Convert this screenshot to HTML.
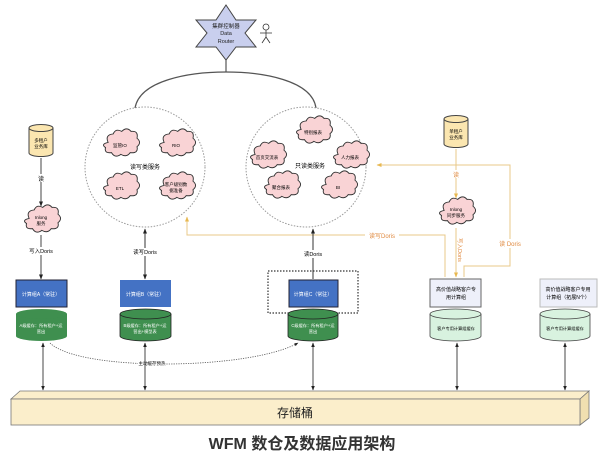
<!DOCTYPE html>
<html><head><meta charset="utf-8"><style>
body{margin:0;background:#fff;}
text{font-family:"Liberation Sans","Noto Sans CJK SC",sans-serif;}
</style></head><body>
<svg width="604" height="467" viewBox="0 0 604 467" xmlns="http://www.w3.org/2000/svg">
<defs>
<marker id="a" viewBox="0 0 10 10" refX="9" refY="5" markerWidth="5" markerHeight="5" orient="auto-start-reverse"><path d="M0,1L10,5L0,9z" fill="#222"/></marker>
<marker id="o" viewBox="0 0 10 10" refX="9" refY="5" markerWidth="5" markerHeight="5" orient="auto-start-reverse"><path d="M0,1L10,5L0,9z" fill="#e8b850"/></marker>
<g id="cl"><path transform="scale(0.85)" d="M-14,-3 q-4,-9 6,-10 q3,-7 10,-3 q6,-6 11,0 q9,-1 7,8 q6,5 0,10 q2,8 -8,7 q-4,6 -11,2 q-7,5 -11,-2 q-9,1 -7,-6 q-6,-4 3,-6z" fill="#f9d3d5" stroke="#333" stroke-width="1.1"/></g>
</defs>
<polygon points="226,5 236,20 256,20 245,33 256,47 236,47 226,60 216,47 196,47 207,33 196,20 216,20" fill="#c9cfee" stroke="#444" stroke-width="1"/>
<text x="226" y="28" font-size="5.5" text-anchor="middle" fill="#222">集群控制器</text>
<text x="226" y="35" font-size="5.5" text-anchor="middle" fill="#222">Data</text>
<text x="226" y="43" font-size="5.5" text-anchor="middle" fill="#222">Router</text>
<g stroke="#333" stroke-width="0.8" fill="none"><circle cx="266" cy="27" r="3"/><path d="M266,30V37M260,33H272M266,37L262,43M266,37L270,43"/></g>
<path d="M226,60V72" stroke="#555" stroke-width="1.2"/>
<path d="M135,108 C140,80 190,72 226,72 C262,72 312,80 316,108" fill="none" stroke="#555" stroke-width="1.2"/>
<circle cx="145" cy="167" r="60" fill="none" stroke="#999" stroke-width="1" stroke-dasharray="1.5,1.5"/>
<circle cx="306" cy="167" r="60" fill="none" stroke="#999" stroke-width="1" stroke-dasharray="1.5,1.5"/>
<use href="#cl" x="120" y="145"/><text x="120" y="147" font-size="4.5" text-anchor="middle">监管IO</text>
<use href="#cl" x="176" y="145"/><text x="176" y="147" font-size="4.5" text-anchor="middle">RIO</text>
<use href="#cl" x="120" y="188"/><text x="120" y="190" font-size="4.5" text-anchor="middle">ETL</text>
<use href="#cl" x="176" y="188"/><text x="176" y="186" font-size="4.5" text-anchor="middle">客户级别数</text><text x="176" y="192" font-size="4.5" text-anchor="middle">据准备</text>
<text x="145" y="169" font-size="6" text-anchor="middle">读写类服务</text>
<use href="#cl" x="313" y="132"/><text x="313" y="134" font-size="4.5" text-anchor="middle">特别报表</text>
<use href="#cl" x="267" y="157"/><text x="267" y="159" font-size="4.5" text-anchor="middle">首页交流表</text>
<use href="#cl" x="350" y="157"/><text x="350" y="159" font-size="4.5" text-anchor="middle">人力报表</text>
<use href="#cl" x="281" y="187"/><text x="281" y="189" font-size="4.5" text-anchor="middle">聚合报表</text>
<use href="#cl" x="338" y="187"/><text x="338" y="189" font-size="4.5" text-anchor="middle">BI</text>
<text x="310" y="168" font-size="6" text-anchor="middle">只读类服务</text>
<path d="M29,128v25a12,3.5 0 0 0 24,0v-25" fill="#fbe6b0" stroke="#444"/><ellipse cx="41" cy="128" rx="12" ry="3.5" fill="#fbe6b0" stroke="#444"/>
<text x="41" y="142" font-size="4.5" text-anchor="middle">多租户</text><text x="41" y="148" font-size="4.5" text-anchor="middle">业务库</text>
<path d="M41,158V206" stroke="#444" marker-end="url(#a)"/>
<rect x="36" y="174" width="10" height="8" fill="#fff"/><text x="41" y="181" font-size="6" text-anchor="middle">读</text>
<use href="#cl" x="41" y="221"/><text x="41" y="219" font-size="4.5" text-anchor="middle">Inlong</text><text x="41" y="225" font-size="4.5" text-anchor="middle">服务</text>
<path d="M41,235V279" stroke="#444" marker-end="url(#a)"/>
<rect x="26" y="247" width="30" height="8" fill="#fff"/><text x="41" y="253" font-size="5.5" text-anchor="middle">写入Doris</text>
<path d="M444,119v25a12,3.5 0 0 0 24,0v-25" fill="#fbe6b0" stroke="#444"/><ellipse cx="456" cy="119" rx="12" ry="3.5" fill="#fbe6b0" stroke="#444"/>
<text x="456" y="133" font-size="4.5" text-anchor="middle">单租户</text><text x="456" y="139" font-size="4.5" text-anchor="middle">业务库</text>
<path d="M456,149V198" stroke="#e8c888" marker-end="url(#o)"/>
<rect x="451" y="170" width="10" height="8" fill="#fff"/><text x="456" y="177" font-size="6" text-anchor="middle" fill="#e08a40">读</text>
<use href="#cl" x="456" y="213"/><text x="456" y="211" font-size="4.5" text-anchor="middle">Inlong</text><text x="456" y="217" font-size="4.5" text-anchor="middle">同步服务</text>
<path d="M456,228V277" stroke="#e8c888" marker-end="url(#o)"/>
<text x="458" y="238" font-size="5.5" fill="#e08a40" transform="rotate(90 458 238)">写入Doris</text>
<path d="M445,277V235H187V217" fill="none" stroke="#e8c888" marker-end="url(#o)"/>
<rect x="365" y="231" width="34" height="9" fill="#fff"/><text x="382" y="238" font-size="6" text-anchor="middle" fill="#e08a40">读写Doris</text>
<path d="M464,277V266H510V165H377" fill="none" stroke="#e8c888" marker-end="url(#o)"/>
<rect x="497" y="239" width="26" height="9" fill="#fff"/><text x="510" y="246" font-size="6" text-anchor="middle" fill="#e08a40">读 Doris</text>
<path d="M145,229V279" stroke="#333" marker-start="url(#a)" marker-end="url(#a)"/>
<rect x="130" y="248" width="30" height="8" fill="#fff"/><text x="145" y="254" font-size="5.5" text-anchor="middle">读写Doris</text>
<path d="M313,229V279" stroke="#333" marker-start="url(#a)"/>
<rect x="300" y="250" width="26" height="8" fill="#fff"/><text x="313" y="256" font-size="5.5" text-anchor="middle">读Doris</text>
<rect x="268" y="271" width="90" height="42" fill="none" stroke="#333" stroke-width="1.2" stroke-dasharray="1.5,1.5"/>
<rect x="16" y="280" width="51" height="27" fill="#4472c4" stroke="#223"/><text x="41" y="296" font-size="5" fill="#fff" text-anchor="middle">计算组A（常驻）</text>
<rect x="120" y="280" width="51" height="27" fill="#4472c4"/><text x="145" y="296" font-size="5" fill="#fff" text-anchor="middle">计算组B（常驻）</text>
<rect x="289" y="280" width="49" height="27" fill="#4472c4" stroke="#223"/><text x="313" y="296" font-size="5" fill="#fff" text-anchor="middle">计算组C（常驻）</text>
<rect x="430" y="279" width="51" height="28" fill="#eef0fa" stroke="#666"/><text x="456" y="291" font-size="5" text-anchor="middle">高价值战略客户专</text><text x="456" y="299" font-size="5" text-anchor="middle">用计算组</text>
<rect x="540" y="279" width="57" height="28" fill="#eef0fa" stroke="#bbb"/><text x="568" y="291" font-size="5" text-anchor="middle">高价值战略客户专用</text><text x="568" y="299" font-size="5" text-anchor="middle">计算组（拓展N个）</text>
<g stroke-width="0.8">
<path d="M16,314v22a25.5,5 0 0 0 51,0v-22" fill="#3f8f4f"/><ellipse cx="41.5" cy="314" rx="25.5" ry="5" fill="#3f8f4f"/>
<path d="M120,314v22a25.5,5 0 0 0 51,0v-22" fill="#3f8f4f" stroke="#222"/><ellipse cx="145.5" cy="314" rx="25.5" ry="5" fill="#3f8f4f" stroke="#222"/>
<path d="M288,314v22a25,5 0 0 0 50,0v-22" fill="#3f8f4f" stroke="#222"/><ellipse cx="313" cy="314" rx="25" ry="5" fill="#3f8f4f" stroke="#222"/>
<path d="M430,314v22a25.5,5 0 0 0 51,0v-22" fill="#d8f2df" stroke="#444"/><ellipse cx="455.5" cy="314" rx="25.5" ry="5" fill="#d8f2df" stroke="#444"/>
<path d="M540,314v22a25,5 0 0 0 50,0v-22" fill="#d8f2df" stroke="#444"/><ellipse cx="565" cy="314" rx="25" ry="5" fill="#d8f2df" stroke="#444"/>
</g>
<text x="41" y="327" font-size="4.2" fill="#fff" text-anchor="middle">A级缓存：所有租户+运</text><text x="41" y="333" font-size="4.2" fill="#fff" text-anchor="middle">营出</text>
<text x="145" y="327" font-size="4.2" fill="#fff" text-anchor="middle">B级缓存：所有租户+运</text><text x="145" y="333" font-size="4.2" fill="#fff" text-anchor="middle">营出+模型表</text>
<text x="313" y="327" font-size="4.2" fill="#fff" text-anchor="middle">C级缓存：所有租户+运</text><text x="313" y="333" font-size="4.2" fill="#fff" text-anchor="middle">营出</text>
<text x="456" y="330" font-size="4.2" text-anchor="middle">客户专用计算组缓存</text>
<text x="565" y="330" font-size="4.2" text-anchor="middle">客户专用计算组缓存</text>
<path d="M50,343 C80,372 250,370 298,343" fill="none" stroke="#555" stroke-width="0.8" stroke-dasharray="1.2,1.2" marker-end="url(#a)"/>
<rect x="138" y="359" width="28" height="7" fill="#fff"/><text x="152" y="365" font-size="4.5" text-anchor="middle">主动缓存预热</text>
<g stroke="#333" stroke-width="0.9">
<path d="M43,343V390" marker-start="url(#a)" marker-end="url(#a)"/>
<path d="M145,343V390" marker-start="url(#a)" marker-end="url(#a)"/>
<path d="M313,343V390" marker-start="url(#a)" marker-end="url(#a)"/>
<path d="M457,343V390" marker-start="url(#a)" marker-end="url(#a)"/>
<path d="M565,343V390" marker-start="url(#a)" marker-end="url(#a)"/>
</g>
<polygon points="11,399 20,391 589,391 580,399" fill="#fbeecb" stroke="#777" stroke-width="0.8"/>
<polygon points="580,399 589,391 589,418 580,425" fill="#f0dfb0" stroke="#777" stroke-width="0.8"/>
<rect x="11" y="399" width="569" height="26" fill="#fbeecb" stroke="#777" stroke-width="0.8"/>
<text x="295" y="417" font-size="12" text-anchor="middle" fill="#222">存储桶</text>
<text x="302" y="449" font-size="16" font-weight="bold" text-anchor="middle" fill="#333">WFM 数仓及数据应用架构</text>
</svg>
</body></html>
